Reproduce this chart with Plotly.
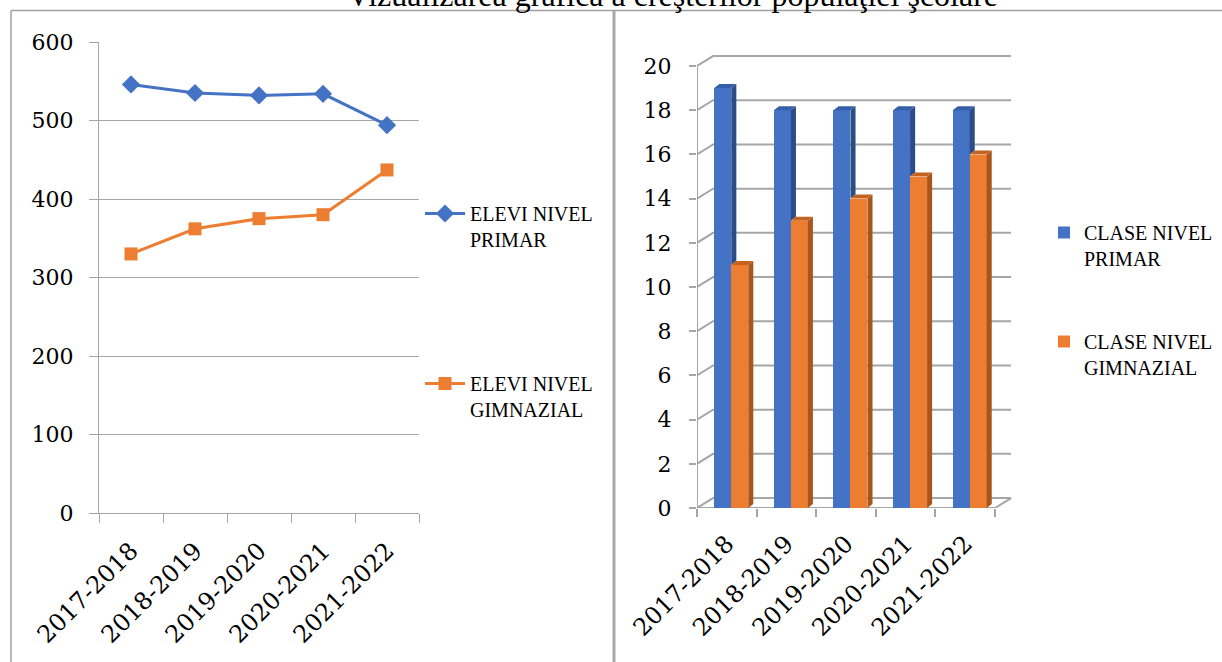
import plotly.graph_objects as go

W, H = 1222, 662

# ---------------- data ----------------
categories = ["2017-2018", "2018-2019", "2019-2020", "2020-2021", "2021-2022"]
elevi_primar = [546, 535, 532, 534, 494]
elevi_gimnazial = [330, 362, 375, 380, 437]
clase_primar = [19, 18, 18, 18, 18]
clase_gimnazial = [11, 13, 14, 15, 16]
left_yticks = [0, 100, 200, 300, 400, 500, 600]
right_yticks = [0, 2, 4, 6, 8, 10, 12, 14, 16, 18, 20]
title_text = "Vizualizarea grafică a creşterilor populaţiei şcolare"
names_left = ["ELEVI NIVEL<br>PRIMAR", "ELEVI NIVEL<br>GIMNAZIAL"]
names_right = ["CLASE NIVEL<br>PRIMAR", "CLASE NIVEL<br>GIMNAZIAL"]

# ---------------- styles ----------------
BLUE, ORANGE = "#4472C4", "#ED7D31"
BLUE_SIDE, ORANGE_SIDE = "#2B4C86", "#A9561E"
BLUE_TOP, ORANGE_TOP = "#3560A8", "#C4631F"
GRID = "#A6A6A6"
NUM_FONT = "DejaVu Serif"
TXT_FONT = "Liberation Serif"


def px_x(px):
    return px / W


def px_y(py):
    return 1 - py / H


# 3D bar geometry (in axis units)
BAR_OFF = 0.29
BAR_W = 0.285
DEPTH_X = 0.085
DEPTH_Y = 0.18
WALL_X = 0.27
WALL_Y = 0.45
N = len(categories)
X2_MAX = N + 0.285
Y2_MAX = 20.6

fig = go.Figure()

# ---------------- left: line chart ----------------
fig.add_trace(go.Scatter(
    x=categories, y=elevi_primar, name=names_left[0], mode="lines+markers",
    line=dict(color=BLUE, width=3), marker=dict(symbol="diamond", size=14, color=BLUE),
    xaxis="x", yaxis="y", legend="legend", legendgroup="a"))
fig.add_trace(go.Scatter(
    x=categories, y=elevi_gimnazial, name=names_left[1], mode="lines+markers",
    line=dict(color=ORANGE, width=3), marker=dict(symbol="square", size=13, color=ORANGE),
    xaxis="x", yaxis="y", legend="legend", legendgroup="b"))

# ---------------- right: 3D-looking bar chart ----------------
xb = [i + BAR_OFF + BAR_W / 2 for i in range(N)]
xo = [i + BAR_OFF + BAR_W * 1.5 for i in range(N)]
fig.add_trace(go.Bar(
    x=xb, y=clase_primar, width=BAR_W, name=names_right[0], marker=dict(color=BLUE, line=dict(width=0)),
    xaxis="x2", yaxis="y2", legend="legend2", legendgroup="c"))
fig.add_trace(go.Bar(
    x=xo, y=clase_gimnazial, width=BAR_W, name=names_right[1], marker=dict(color=ORANGE, line=dict(width=0)),
    xaxis="x2", yaxis="y2", legend="legend2", legendgroup="d"))


def poly_trace(xs, ys, color):
    return go.Scatter(x=xs, y=ys, mode="lines", fill="toself", fillcolor=color,
                      line=dict(width=0, color=color), hoverinfo="skip",
                      showlegend=False, xaxis="x2", yaxis="y2")


bs_x, bs_y, bt_x, bt_y = [], [], [], []
os_x, os_y, ot_x, ot_y = [], [], [], []
for i in range(N):
    b, o = clase_primar[i], clase_gimnazial[i]
    bl = i + BAR_OFF
    br = bl + BAR_W
    ol, orr = br, br + BAR_W
    lo = min(b, o)
    bs_x += [br, br + DEPTH_X, br + DEPTH_X, br, br, None]
    bs_y += [lo, lo + DEPTH_Y, b + DEPTH_Y, b, lo, None]
    bt_x += [bl, bl + DEPTH_X, br + DEPTH_X, br, bl, None]
    bt_y += [b, b + DEPTH_Y, b + DEPTH_Y, b, b, None]
    os_x += [orr, orr + DEPTH_X, orr + DEPTH_X, orr, orr, None]
    os_y += [0, DEPTH_Y, o + DEPTH_Y, o, 0, None]
    ot_x += [ol, ol + DEPTH_X, orr + DEPTH_X, orr, ol, None]
    ot_y += [o, o + DEPTH_Y, o + DEPTH_Y, o, o, None]

fig.add_trace(poly_trace(bs_x, bs_y, BLUE_SIDE))
fig.add_trace(poly_trace(bt_x, bt_y, BLUE_TOP))
fig.add_trace(poly_trace(os_x, os_y, ORANGE_SIDE))
fig.add_trace(poly_trace(ot_x, ot_y, ORANGE_TOP))

shapes = []
for t in right_yticks:
    shapes.append(dict(type="path", xref="x2", yref="y2", layer="below",
                       path=f"M0,{t} L{WALL_X},{t + WALL_Y} L{N + WALL_X},{t + WALL_Y}",
                       line=dict(color=GRID, width=2)))
shapes.append(dict(type="line", xref="x2", yref="y2", layer="below", x0=0, x1=0,
                   y0=0, y1=right_yticks[-1], line=dict(color=GRID, width=2)))
shapes.append(dict(type="path", xref="x2", yref="y2", layer="below",
                   path=f"M0,0 L{N},0 L{N + WALL_X},{WALL_Y}",
                   line=dict(color=GRID, width=2)))

# frame lines
shapes.append(dict(type="line", xref="paper", yref="paper", x0=px_x(11), x1=1,
                   y0=px_y(10.5), y1=px_y(10.5), line=dict(color="#A0A0A0", width=1.5)))
shapes.append(dict(type="line", xref="paper", yref="paper", x0=px_x(11), x1=px_x(11),
                   y0=0, y1=px_y(10.5), line=dict(color="#A0A0A0", width=1.5)))
shapes.append(dict(type="line", xref="paper", yref="paper", x0=px_x(614), x1=px_x(614),
                   y0=0, y1=px_y(10.5), line=dict(color="#A8A8A8", width=3)))

fig.update_layout(
    width=W, height=H, margin=dict(l=0, r=0, t=0, b=0, pad=0, autoexpand=False),
    paper_bgcolor="white", plot_bgcolor="rgba(0,0,0,0)",
    shapes=shapes,
    xaxis=dict(domain=[px_x(99), px_x(419)], type="category", tickson="boundaries",
               range=[-0.5, N - 0.5],
               ticks="outside", ticklen=9, tickcolor=GRID, tickwidth=1.3,
               showgrid=False, showline=True, linecolor=GRID, linewidth=1.3,
               tickangle=-45, ticklabelstandoff=13,
               tickfont=dict(family=NUM_FONT, size=24, color="black"),
               anchor="y", fixedrange=True, automargin=False),
    yaxis=dict(domain=[px_y(513), px_y(42)], range=[0, 600], tickvals=left_yticks,
               ticks="outside", ticklen=9, tickcolor=GRID, tickwidth=1.3,
               showgrid=True, gridcolor=GRID, gridwidth=1.3, zeroline=False,
               showline=True, linecolor=GRID, linewidth=1.3,
               ticklabelstandoff=11,
               tickfont=dict(family=NUM_FONT, size=22, color="black"),
               anchor="x", fixedrange=True, automargin=False),
    xaxis2=dict(domain=[px_x(697), px_x(697 + X2_MAX * 59.6)], range=[0, X2_MAX],
                tickvals=[i + 0.5 for i in range(N)], ticktext=categories,
                ticks="", showgrid=False, showline=False, zeroline=False,
                minor=dict(tickvals=list(range(N + 1)), ticks="outside", ticklen=8,
                           tickcolor=GRID, tickwidth=2, showgrid=False),
                tickangle=-45, ticklabelstandoff=16,
                tickfont=dict(family=NUM_FONT, size=24, color="black"),
                anchor="y2", fixedrange=True, automargin=False),
    yaxis2=dict(domain=[px_y(508), px_y(508 - Y2_MAX * 22.1)], range=[0, Y2_MAX],
                tickvals=right_yticks, ticks="outside", ticklen=7, tickcolor=GRID,
                tickwidth=2, showgrid=False, showline=False, zeroline=False,
                ticklabelstandoff=13,
                tickfont=dict(family=NUM_FONT, size=22, color="black"),
                anchor="x2", fixedrange=True, automargin=False),
    legend=dict(x=px_x(420), y=px_y(194), xanchor="left", yanchor="top",
                font=dict(family=TXT_FONT, size=20, color="black"),
                tracegroupgap=115, valign="top", bgcolor="rgba(0,0,0,0)",
                traceorder="grouped", itemwidth=40),
    legend2=dict(x=px_x(1044), y=px_y(213), xanchor="left", yanchor="top",
                 font=dict(family=TXT_FONT, size=20, color="black"),
                 tracegroupgap=54, valign="top", bgcolor="rgba(0,0,0,0)",
                 traceorder="grouped", itemwidth=30),
    annotations=[dict(text=title_text, xref="paper", yref="paper", x=px_x(672),
                      y=px_y(15), xanchor="center", yanchor="bottom", showarrow=False,
                      font=dict(family=TXT_FONT, size=32, color="black"))],
    bargap=0,
)

fig.write_html("out.html", config={"displayModeBar": False},
               post_script="document.body.style.margin='0px';")
